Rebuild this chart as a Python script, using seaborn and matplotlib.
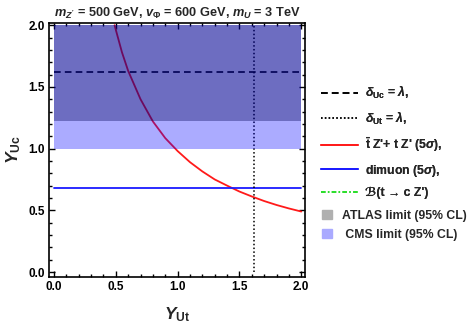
import numpy as np
import pandas as pd
import matplotlib
matplotlib.use("Agg")
import matplotlib.pyplot as plt
from matplotlib.lines import Line2D
from matplotlib.patches import Patch
from matplotlib.ticker import MultipleLocator
import seaborn as sns

# ---- data ----
ttz_x = [0.49, 0.55, 0.60, 0.70, 0.80, 0.90, 1.00, 1.10, 1.20, 1.30, 1.40, 1.50, 1.60, 1.70, 1.80, 1.90, 2.00]
ttz_y = [2.00, 1.78, 1.63, 1.40, 1.22, 1.085, 0.98, 0.89, 0.815, 0.75, 0.70, 0.652, 0.612, 0.575, 0.543, 0.515, 0.49]
dimuon_x = [0.0, 2.0]
dimuon_y = [0.68, 0.68]
delta_uc_x = [0.0, 2.0]
delta_uc_y = [1.62, 1.62]
delta_ut_x = [1.62, 1.62]
delta_ut_y = [0.0, 2.0]
atlas_x = [0.0, 2.0]
atlas_lo = [1.22, 1.22]
atlas_hi = [2.0, 2.0]
cms_x = [0.0, 2.0]
cms_lo = [1.0, 1.0]
cms_hi = [2.0, 2.0]
xticks = [0.0, 0.5, 1.0, 1.5, 2.0]
yticks = [0.0, 0.5, 1.0, 1.5, 2.0]

sns.set_style("ticks")
plt.rcParams['font.family'] = ['Liberation Sans', 'DejaVu Sans']
plt.rcParams['font.weight'] = 'bold'
plt.rcParams['mathtext.fontset'] = 'custom'
plt.rcParams['mathtext.rm'] = 'Liberation Sans:bold'
plt.rcParams['mathtext.it'] = 'Liberation Sans:bold:italic'
plt.rcParams['mathtext.bf'] = 'Liberation Sans:bold'

fig = plt.figure(figsize=(4.68, 3.27), dpi=100)
ax = fig.add_axes([49/468, 1 - 276.7/327, (305-49)/468, (276.7-22.7)/327])

df_ttz = pd.DataFrame({"x": ttz_x, "y": ttz_y})
sns.lineplot(data=df_ttz, x="x", y="y", ax=ax, color="#ff1a1a", lw=1.3, sort=False, zorder=2)
sns.lineplot(x=dimuon_x, y=dimuon_y, ax=ax, color="#1a1aff", lw=1.3, zorder=2)
sns.lineplot(x=delta_uc_x, y=delta_uc_y, ax=ax, color="black", lw=1.2, ls=(0, (4, 2.5)), zorder=2)
ax.plot(delta_ut_x, delta_ut_y, color="black", lw=1.1, ls=(0, (1, 1.5)), zorder=2)

ax.fill_between(atlas_x, atlas_lo, atlas_hi, color="black", alpha=0.36, lw=0, zorder=3)
ax.fill_between(cms_x, cms_lo, cms_hi, color="#0000ff", alpha=0.33, lw=0, zorder=4)

ax.set_xlim(-0.04, 2.03)
ax.set_ylim(-0.038, 2.02)
ax.set_xticks(xticks)
ax.set_yticks(yticks)
ax.set_xticklabels([f"{v:.1f}" for v in xticks], fontsize=8.5, fontweight='bold')
ax.set_yticklabels([f"{v:.1f}" for v in yticks], fontsize=8.5, fontweight='bold')
ax.xaxis.set_minor_locator(MultipleLocator(0.1))
ax.yaxis.set_minor_locator(MultipleLocator(0.1))
ax.tick_params(which='both', direction='in', top=True, right=True, width=1.0, colors='black')
ax.tick_params(which='major', length=4, pad=3)
ax.tick_params(which='minor', length=2)
for s in ax.spines.values():
    s.set_linewidth(1.2)
    s.set_color('black')

ax.set_xlabel(r"$Y_{\rm Ut}$", fontsize=12.5, labelpad=9)
ax.set_ylabel(r"$Y_{\rm Uc}$", fontsize=12.5, labelpad=4)
ax.set_title(r"$m_{Z'}$ = 500 GeV, $v_{\Phi}$ = 600 GeV, $m_U$ = 3 TeV", fontsize=9.2, fontweight='bold', pad=4)

line_handles = [
    Line2D([], [], color='black', lw=1.2, ls=(0, (4, 2.5))),
    Line2D([], [], color='black', lw=1.1, ls=(0, (1, 1.5))),
    Line2D([], [], color='#ff1a1a', lw=1.3),
    Line2D([], [], color='#1a1aff', lw=1.3),
    Line2D([], [], color='#22dd22', lw=1.1, ls=(0, (3, 1.5, 1, 1.5))),
]
line_labels = [
    r"$\delta_{\rm Uc}$ = $\lambda$,",
    r"$\delta_{\rm Ut}$ = $\lambda$,",
    r"$\bar{\rm t}$ Z'+ t Z' (5$\sigma$),",
    r"dimuon (5$\sigma$),",
    "\u212C(t \u2192 c Z')",
]
leg1 = fig.legend(line_handles, line_labels, loc='upper left', bbox_to_anchor=(321/468, 1 - 84/327),
                  frameon=False, fontsize=8.8, handlelength=3.0, handletextpad=0.6,
                  labelspacing=0.70, borderaxespad=0, borderpad=0)
fig.add_artist(leg1)
patch_handles = [Patch(color='#b0b0b0'), Patch(color='#aaaaff')]
patch_labels = ["ATLAS limit (95% CL)", " CMS limit (95% CL)"]
fig.legend(patch_handles, patch_labels, loc='upper left', bbox_to_anchor=(322/468, 1 - 210/327),
           frameon=False, fontsize=8.8, handlelength=0.8, handleheight=0.8, handletextpad=0.8,
           labelspacing=0.55, borderaxespad=0, borderpad=0)

fig.savefig("out.png", dpi=100)
